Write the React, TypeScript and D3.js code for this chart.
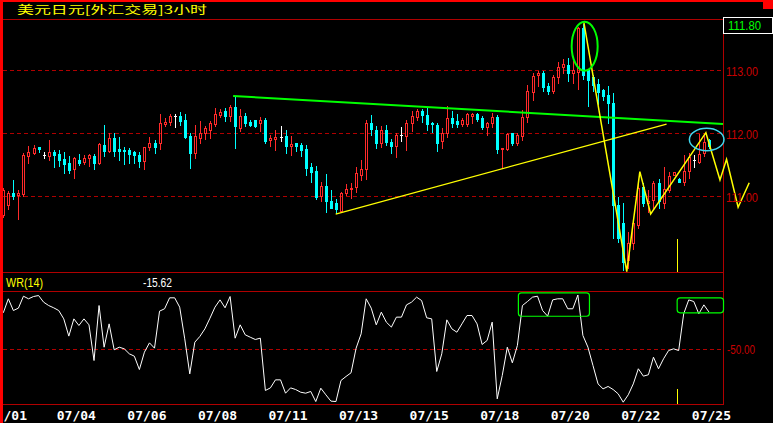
import React from "react";
import * as d3 from "d3";

const title = "美元日元[外汇交易]3小时";
const lastPriceText = "111.80";
const wrName = "WR(14)";
const wrLastText = "-15.62";

const opens = [110.706,110.865,111.060,111.024,111.040,111.648,111.690,111.786,111.659,111.648,
111.711,111.675,111.595,111.537,111.437,111.579,111.552,111.616,111.643,111.537,
111.817,111.727,111.933,111.754,111.738,111.738,111.706,111.659,111.568,111.786,
111.854,111.844,112.156,112.187,112.278,112.278,112.214,111.960,111.695,111.933,
112.003,112.056,112.151,112.294,112.357,112.282,112.416,112.092,112.278,112.187,
112.214,112.171,112.214,111.897,111.913,111.940,111.960,111.806,111.854,111.817,
111.754,111.463,111.405,111.008,111.167,110.928,110.892,110.774,111.060,111.114,
111.146,111.341,111.432,112.162,112.056,111.854,112.056,111.865,111.806,111.976,
111.965,112.162,112.257,112.357,112.294,112.171,112.135,111.886,112.003,112.241,
112.198,112.151,112.151,112.282,112.310,112.251,112.108,112.162,112.267,111.749,
111.754,112.003,111.844,111.965,112.267,112.663,112.929,112.965,112.754,112.675,
112.892,113.060,113.087,112.965,112.981,113.670,113.008,112.897,112.786,112.686,
112.611,112.479,110.865,110.575,109.992,110.257,110.548,111.156,110.902,110.952,
111.214,110.892,111.111,111.341,111.282,111.230,111.397,111.575,111.552,111.690,
111.889];

const highs = [111.135,111.092,111.262,111.103,111.690,111.806,111.817,111.786,111.711,111.897,
111.738,111.738,111.711,111.643,111.632,111.675,111.659,111.675,111.675,111.849,
112.135,112.008,112.008,111.949,111.786,111.770,111.727,111.711,111.790,111.949,
111.897,112.310,112.251,112.305,112.310,112.336,112.310,112.003,112.135,112.198,
112.119,112.198,112.400,112.384,112.400,112.452,112.595,112.384,112.330,112.214,
112.214,112.267,112.251,111.976,112.056,112.119,112.056,111.960,111.854,111.844,
111.817,111.527,111.484,111.235,111.357,111.103,110.960,111.076,111.194,111.219,
111.463,111.579,112.214,112.294,112.119,112.119,112.135,111.908,112.003,112.108,
112.214,112.357,112.389,112.389,112.400,112.187,112.171,112.083,112.437,112.362,
112.310,112.241,112.330,112.330,112.330,112.278,112.187,112.321,112.294,111.775,
112.013,112.003,112.003,112.373,112.770,112.965,112.992,112.997,112.797,112.929,
113.140,113.178,113.194,113.151,113.695,113.738,113.008,112.929,112.860,112.701,
112.754,112.638,110.997,110.892,110.441,110.627,111.209,111.219,111.111,111.246,
111.282,111.473,111.394,111.389,111.294,111.659,111.686,111.659,111.992,111.992,
111.913];

const lows = [110.675,110.802,110.960,110.643,111.008,111.537,111.675,111.711,111.611,111.579,
111.473,111.484,111.378,111.378,111.298,111.505,111.516,111.484,111.441,111.516,
111.643,111.711,111.643,111.579,111.516,111.537,111.532,111.473,111.441,111.738,
111.695,111.754,112.124,112.135,112.108,112.135,111.929,111.457,111.616,111.854,
111.917,111.933,112.124,112.257,112.203,112.203,111.775,112.040,112.124,112.124,
112.108,112.044,111.854,111.802,111.738,111.881,111.695,111.659,111.727,111.643,
111.341,111.235,110.955,110.933,110.759,110.813,110.743,110.759,111.024,110.981,
111.076,111.262,111.278,111.976,111.775,111.790,111.817,111.695,111.632,111.881,
111.738,112.044,112.214,112.187,112.056,112.028,111.727,111.775,111.940,112.108,
112.108,112.119,112.119,112.171,112.203,112.067,111.976,112.108,111.695,111.457,
111.738,111.817,111.817,111.897,112.187,112.532,112.754,112.675,112.627,112.638,
112.797,112.965,112.838,112.797,112.701,112.865,112.436,112.675,112.468,112.532,
112.167,110.337,110.283,109.833,109.860,110.162,110.495,110.849,110.754,110.825,
110.817,110.825,111.076,111.341,111.225,111.183,111.289,111.473,111.532,111.643,
111.770];

const closes = [111.103,111.056,111.008,111.056,111.659,111.706,111.770,111.754,111.659,111.706,
111.659,111.579,111.516,111.421,111.611,111.537,111.611,111.659,111.537,111.833,
111.722,111.929,111.722,111.722,111.722,111.675,111.659,111.568,111.786,111.849,
111.790,112.171,112.187,112.282,112.278,112.203,111.940,111.695,111.960,112.003,
112.083,112.162,112.310,112.346,112.282,112.416,112.124,112.278,112.171,112.135,
112.124,112.214,111.886,111.933,111.949,111.940,111.806,111.833,111.806,111.738,
111.457,111.394,110.997,111.167,110.933,110.822,110.802,111.051,111.114,111.139,
111.368,111.432,112.162,112.071,111.854,112.056,111.870,111.806,111.976,111.976,
112.171,112.278,112.357,112.294,112.146,112.146,111.854,112.013,112.241,112.171,
112.151,112.214,112.310,112.310,112.230,112.098,112.162,112.267,111.749,111.775,
111.987,111.844,111.976,112.267,112.675,112.913,112.965,112.743,112.675,112.892,
113.060,113.103,112.956,113.008,113.670,112.929,112.849,112.762,112.663,112.595,
112.479,110.865,110.337,109.965,110.257,110.575,111.130,110.892,110.933,111.214,
110.936,111.122,111.321,111.384,111.230,111.405,111.632,111.575,111.675,111.870,
111.794];

const wrValues = [-16.4,-3.5,-14.3,-12.1,-1.1,-3.5,-1.4,-0.5,-6.6,-9.7,
-11.8,-14.3,-22.0,-37.9,-22.0,-28.1,-22.0,-27.5,-60.4,-9.7,
-48.1,-26.6,-50.5,-48.1,-49.6,-54.2,-56.4,-68.7,-52.7,-44.1,
-49.0,-14.9,-12.7,-2.6,-2.6,-11.2,-40.4,-72.7,-43.5,-38.2,
-31.2,-21.4,-11.2,-4.5,-11.8,-1.4,-39.8,-27.5,-36.7,-38.9,
-41.0,-39.8,-88.0,-85.6,-78.2,-78.2,-90.5,-85.6,-87.1,-89.6,
-90.5,-88.9,-98.2,-85.9,-92.0,-97.8,-98.2,-78.8,-75.1,-71.7,
-49.0,-35.8,-3.5,-12.1,-27.5,-15.8,-25.0,-29.6,-20.4,-20.4,
-9.1,-6.6,-2.0,-5.1,-21.0,-22.0,-70.5,-54.2,-22.9,-31.2,
-34.3,-26.6,-18.9,-18.9,-26.6,-45.6,-41.9,-25.0,-95.7,-74.2,
-48.1,-62.5,-46.5,-9.7,-6.0,-2.0,-1.1,-14.3,-19.5,-4.5,
-3.5,-3.5,-12.7,-12.7,0,-37.3,-48.1,-65.0,-81.9,-86.5,
-84.3,-87.1,-91.1,-98.8,-92.0,-81.9,-68.0,-74.8,-73.5,-57.3,
-68.0,-58.8,-51.2,-49.6,-51.2,-17.3,-4.5,-6.0,-17.3,-9.1,
-15.62];

// first label is shown only partly ("/01") in the reference, the rest is under the left border
const dateLabels = ["/01","07/04","07/06","07/08","07/11","07/13","07/15","07/18","07/20","07/22","07/25"];
const dateLabelIndex = [0,14,28,42,56,70,84,98,112,126,140];
const priceTicks = [113, 112, 111];
const wrTicks = [-50];

// hand-drawn annotations, in data units (candle index, price / WR value)
const resistanceLine: [number, number][] = [[45.6, 112.595], [142.8, 112.151]];
const supportLine: [number, number][] = [[65.95, 110.722], [131.6, 112.15]];
const waveLine: [number, number][] = [[115.2,113.759],[123.7,109.806],[126.3,111.394],[128.45,110.722],[139.4,112.013],[142.2,111.262],[143.5,111.59],[145.8,110.829],[148.0,111.219]];
const topEllipse = { idx: 115.35, price: 113.386, rIdx: 2.58, rPrice: 0.389 };
const tipEllipse = { idx: 139.56, price: 111.905, rIdx: 3.43, rPrice: 0.178 };
const markerIndex = 133.73;
const markerPriceTop = 110.32;
const markerWrTop = -87;
const wrBoxes: [number, number, number, number][] = [[102.2, 2, 116.3, -19.6], [133.7, -2.6, 142.9, -16.4]];

const UP = "#ff2a2a";
const DOWN = "#00ffff";
const GRID = "#b00000";
const FRAME = "#ff0000";
const AXIS_TXT = "#c80000";

export default function App() {
  const n = closes.length;
  const x = d3.scaleLinear().domain([0, n - 1]).range([3.3, 708.9]);
  const y = d3.scaleLinear().domain([111, 113]).range([196.5, 70.5]);
  const yw = d3.scaleLinear().domain([0, -100]).range([295, 403.5]);

  const candles = closes.map((c, i) => {
    const o = opens[i], h = highs[i], l = lows[i];
    const cx = Math.round(x(i));
    const wx = cx + 0.5;
    const yo = Math.round(y(o)), yc = Math.round(y(c));
    const yh = Math.round(y(h)), yl = Math.round(y(l));
    if (c > o) {
      return (
        <g key={i} stroke={UP} shapeRendering="crispEdges">
          {yh < yc && <line x1={wx} x2={wx} y1={yh} y2={yc} />}
          {yl > yo && <line x1={wx} x2={wx} y1={yo + 1} y2={yl + 1} />}
          <rect x={cx - 1 + 0.5} y={yc + 0.5} width={2} height={Math.max(1, yo - yc)} fill="none" />
        </g>
      );
    } else if (c < o) {
      return (
        <g key={i} shapeRendering="crispEdges">
          <line x1={wx} x2={wx} y1={yh} y2={yl + 1} stroke={DOWN} />
          <rect x={cx - 1} y={yo} width={3} height={Math.max(1, yc - yo + 1)} fill={DOWN} />
        </g>
      );
    }
    return (
      <g key={i} stroke="#ffffff" shapeRendering="crispEdges">
        <line x1={wx} x2={wx} y1={yh} y2={yl + 1} />
        <line x1={cx - 1} x2={cx + 2} y1={yc + 0.5} y2={yc + 0.5} />
      </g>
    );
  });

  const wrLine = d3.line<number>().x((_, i) => x(i)).y((v) => yw(v))(wrValues) || "";
  const lineGen = d3.line<[number, number]>().x((d) => x(d[0])).y((d) => y(d[1]));

  const px = (v: number) => Math.floor(v) + 0.5;

  return (
    <div style={{ position: "fixed", left: 0, top: 0 }}>
      <svg width={773} height={423} style={{ display: "block", background: "#000" }}>
        <rect x={0} y={0} width={773} height={423} fill="#000" />
        {/* dashed grid */}
        {priceTicks.map((t) => (
          <line key={t} x1={3} x2={723} y1={px(y(t))} y2={px(y(t))} stroke={GRID} strokeDasharray="4,3" shapeRendering="crispEdges" />
        ))}
        {wrTicks.map((t) => (
          <line key={t} x1={3} x2={723} y1={px(yw(t))} y2={px(yw(t))} stroke={GRID} strokeDasharray="4,3" shapeRendering="crispEdges" />
        ))}
        {/* frame lines */}
        <g stroke={GRID} shapeRendering="crispEdges">
          <line x1={3} x2={723} y1={19.5} y2={19.5} />
          <line x1={3} x2={723} y1={272.5} y2={272.5} />
          <line x1={3} x2={723} y1={291.5} y2={291.5} />
          <line x1={3} x2={723} y1={404.5} y2={404.5} />
          <line x1={723.5} x2={723.5} y1={19} y2={405} />
        </g>
        {candles}
        {/* annotations */}
        <path d={lineGen(resistanceLine) || ""} stroke="#00ff00" strokeWidth={2} fill="none" />
        <path d={lineGen(supportLine) || ""} stroke="#ffff00" strokeWidth={1.3} fill="none" />
        <path d={lineGen(waveLine) || ""} stroke="#ffff00" strokeWidth={1.5} fill="none" strokeLinejoin="miter" />
        <ellipse cx={x(topEllipse.idx)} cy={y(topEllipse.price)}
          rx={x(topEllipse.idx + topEllipse.rIdx) - x(topEllipse.idx)}
          ry={y(topEllipse.price - topEllipse.rPrice) - y(topEllipse.price)}
          fill="none" stroke="#00ff00" strokeWidth={2} />
        <ellipse cx={x(tipEllipse.idx)} cy={y(tipEllipse.price)}
          rx={x(tipEllipse.idx + tipEllipse.rIdx) - x(tipEllipse.idx)}
          ry={y(tipEllipse.price - tipEllipse.rPrice) - y(tipEllipse.price)}
          fill="none" stroke="#40d8f0" strokeWidth={1.5} />
        <g stroke="#ffff00" shapeRendering="crispEdges">
          <line x1={px(x(markerIndex))} x2={px(x(markerIndex))} y1={Math.round(y(markerPriceTop))} y2={272} />
          <line x1={px(x(markerIndex))} x2={px(x(markerIndex))} y1={Math.round(yw(markerWrTop))} y2={404} />
        </g>
        {/* WR */}
        <path d={wrLine} stroke="#ffffff" strokeWidth={1} fill="none" />
        {wrBoxes.map((b, i) => (
          <rect key={i} x={x(b[0])} y={yw(b[1])} width={x(b[2]) - x(b[0])} height={yw(b[3]) - yw(b[1])}
            rx={3} fill="none" stroke="#00ff00" strokeWidth={1.2} />
        ))}
        {/* axis labels */}
        {priceTicks.map((t) => (
          <text key={t} x={726} y={Math.round(y(t)) + 5} fill={AXIS_TXT} fontFamily="Liberation Sans, Arial, sans-serif"
            fontSize={12.5} textLength={32} lengthAdjust="spacingAndGlyphs">{t.toFixed(2)}</text>
        ))}
        {wrTicks.map((t) => (
          <text key={t} x={727} y={Math.round(yw(t)) + 5} fill={AXIS_TXT} fontFamily="Liberation Sans, Arial, sans-serif"
            fontSize={12.5} textLength={28} lengthAdjust="spacingAndGlyphs">{t.toFixed(2)}</text>
        ))}
        <rect x={723.5} y={17.5} width={49} height={16} fill="#000" stroke="#ffffff" shapeRendering="crispEdges" />
        <text x={728} y={29.5} fill="#00ff00" fontFamily="Liberation Sans, Arial, sans-serif" fontSize={12.5}
          textLength={33} lengthAdjust="spacingAndGlyphs">{lastPriceText}</text>
        {/* headers */}
        <text x={17} y={14} fill="#ffff00" fontFamily="Noto Sans CJK SC, sans-serif" fontSize={11.5}
          textLength={190} lengthAdjust="spacingAndGlyphs">{title}</text>
        <text x={6} y={286.5} fill="#ffff00" fontFamily="Liberation Sans, Arial, sans-serif" fontSize={12}
          textLength={37} lengthAdjust="spacingAndGlyphs">{wrName}</text>
        <text x={143} y={286.5} fill="#ffffff" fontFamily="Liberation Sans, Arial, sans-serif" fontSize={12}
          textLength={29} lengthAdjust="spacingAndGlyphs">{wrLastText}</text>
        {/* dates */}
        {dateLabels.map((d, i) => {
          const cx = x(dateLabelIndex[i]) + 2.5;
          const partial = d.length < 5;
          return (
            <text key={d} x={partial ? 3.5 : cx} y={420} fill="#ffffff" fontFamily="DejaVu Sans Mono, monospace"
              fontWeight="bold" fontSize={13} textAnchor={partial ? "start" : "middle"}>{d}</text>
          );
        })}
        {/* outer red border */}
        <rect x={0} y={0} width={3} height={423} fill={FRAME} />
        <rect x={0} y={0} width={773} height={2} fill={FRAME} />
        <rect x={763} y={0} width={10} height={9} fill={FRAME} />
      </svg>
    </div>
  );
}
